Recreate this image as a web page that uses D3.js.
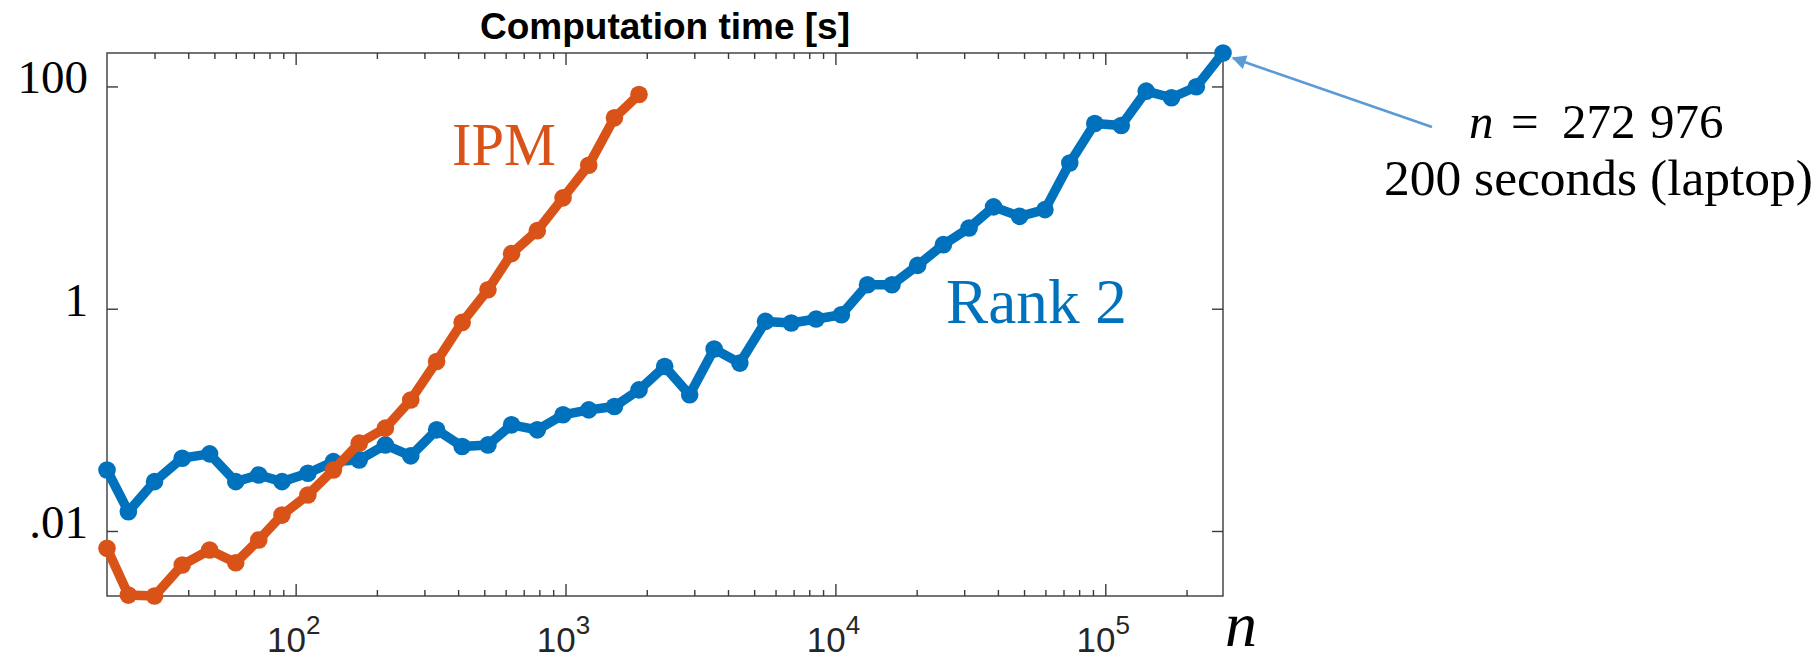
<!DOCTYPE html>
<html>
<head>
<meta charset="utf-8">
<script src="https://cdn.jsdelivr.net/npm/d3@7/dist/d3.min.js"></script>
<style>
  html, body { margin: 0; padding: 0; background: #fff; }
  svg { display: block; }
</style>
</head>
<body>
<svg id="chart" width="1819" height="660"></svg>
<script>
// ---- data ----
const sizes = [20, 24, 30, 38, 48, 60, 73, 89, 111, 138, 172, 215, 267, 333, 414, 516, 631, 786, 979, 1219,
  1518, 1872, 2330, 2884, 3553, 4425, 5510, 6860, 8482, 10525, 13150, 16205, 20170, 25120, 31280, 38540,
  48140, 59760, 73860, 91430, 114600, 141800, 175900, 217500, 272976];
const rank2Times = [0.0354, 0.0149, 0.0278, 0.0452, 0.0494, 0.0278, 0.0319, 0.0278, 0.0331, 0.0421, 0.0436,
  0.0595, 0.0474, 0.0813, 0.0575, 0.0595, 0.0902, 0.0813, 0.111, 0.123, 0.132, 0.186, 0.302, 0.168, 0.434,
  0.324, 0.769, 0.743, 0.808, 0.883, 1.645, 1.645, 2.455, 3.77, 5.33, 8.25, 6.78, 7.79, 20.5, 46.4, 44.5,
  90.7, 79.1, 99.4, 200];
const ipmTimes = [0.00698, 0.00265, 0.0026, 0.00494, 0.00674, 0.00518, 0.0083, 0.0139, 0.0211, 0.0354,
  0.0617, 0.0842, 0.151, 0.335, 0.753, 1.483, 3.13, 5.04, 9.94, 19.54, 52.2, 84.7];
const xMajorTicks = [1e2, 1e3, 1e4, 1e5];
const xTickExponents = ["2", "3", "4", "5"];
const yTicks = [0.01, 1, 100];
const yTickLabels = [".01", "1", "100"];
const titleText = "Computation time [s]";
const seriesNames = ["IPM", "Rank 2"];
const annotationLine1 = ["n", "=", "272", "976"];
const annotationLine2 = "200 seconds (laptop)";

// ---- setup ----
const svg = d3.select("#chart");
const blue = "#0072BD", orange = "#D95319";
const L = 107, R = 1223, T = 53, B = 596;

const rank2 = sizes.map((n, i) => ({ n, t: rank2Times[i] }));
const ipm = ipmTimes.map((t, i) => ({ n: sizes[i], t }));
const allT = rank2Times.concat(ipmTimes);

const x = d3.scaleLog().domain(d3.extent(sizes)).range([L, R]);
const y = d3.scaleLog().domain(d3.extent(allT)).range([B, T]);

// minor ticks: 2..9 x 10^k inside the domain
const xMinor = [];
for (let e = 1; e <= 5; e++) for (let m = 2; m <= 9; m++) {
  const v = m * Math.pow(10, e);
  if (v > x.domain()[0] && v < x.domain()[1]) xMinor.push(v);
}

const axisColor = "#3a3a3a";
function styleAxis(g) {
  g.select(".domain").remove();
  g.selectAll("line").attr("stroke", axisColor).attr("stroke-width", 1.4);
  g.selectAll("text").remove();
}
svg.append("g").attr("transform", `translate(0,${B})`)
  .call(d3.axisBottom(x).tickValues(xMajorTicks).tickSize(-12).tickFormat("")).call(styleAxis);
svg.append("g").attr("transform", `translate(0,${B})`)
  .call(d3.axisBottom(x).tickValues(xMinor).tickSize(-6).tickFormat("")).call(styleAxis);
svg.append("g").attr("transform", `translate(0,${T})`)
  .call(d3.axisTop(x).tickValues(xMajorTicks).tickSize(-12).tickFormat("")).call(styleAxis);
svg.append("g").attr("transform", `translate(0,${T})`)
  .call(d3.axisTop(x).tickValues(xMinor).tickSize(-6).tickFormat("")).call(styleAxis);
svg.append("g").attr("transform", `translate(${L},0)`)
  .call(d3.axisLeft(y).tickValues(yTicks).tickSize(-11).tickFormat("")).call(styleAxis);
svg.append("g").attr("transform", `translate(${R},0)`)
  .call(d3.axisRight(y).tickValues(yTicks).tickSize(-11).tickFormat("")).call(styleAxis);

// box
svg.append("rect").attr("x", L).attr("y", T).attr("width", R - L).attr("height", B - T)
  .attr("fill", "none").attr("stroke", axisColor).attr("stroke-width", 1.4);

// x tick labels 10^k
xMajorTicks.forEach((v, i) => {
  const t = svg.append("text").attr("x", x(v) - 2).attr("y", 652)
    .attr("text-anchor", "middle")
    .attr("font-family", "'Liberation Sans', Arial, sans-serif")
    .attr("font-size", 35).attr("fill", "#262626");
  t.append("tspan").text("10");
  t.append("tspan").attr("font-size", 26).attr("dy", -18).text(xTickExponents[i]);
});

// y tick labels
yTicks.forEach((v, i) => {
  svg.append("text").attr("x", 88).attr("y", y(v) + 7)
    .attr("text-anchor", "end")
    .attr("font-family", "'Liberation Serif', 'Times New Roman', serif")
    .attr("font-size", 47).attr("fill", "#000").text(yTickLabels[i]);
});

// title
svg.append("text").attr("x", (L + R) / 2).attr("y", 39).attr("text-anchor", "middle")
  .attr("font-family", "'Liberation Sans', Arial, sans-serif").attr("font-weight", "bold")
  .attr("font-size", 37).attr("fill", "#000").text(titleText);

// x axis label n
svg.append("text").attr("x", R + 2).attr("y", 646)
  .attr("font-family", "'Liberation Serif', serif").attr("font-style", "italic")
  .attr("font-size", 64).attr("fill", "#000").text("n");

// series
const line = d3.line().x(d => x(d.n)).y(d => y(d.t));
function drawSeries(data, color) {
  const g = svg.append("g");
  g.append("path").datum(data).attr("d", line).attr("fill", "none")
    .attr("stroke", color).attr("stroke-width", 9.5)
    .attr("stroke-linejoin", "round").attr("stroke-linecap", "round");
  g.selectAll("circle").data(data).join("circle")
    .attr("cx", d => x(d.n)).attr("cy", d => y(d.t)).attr("r", 8.8).attr("fill", color);
}
drawSeries(rank2, blue);
drawSeries(ipm, orange);

// series labels
svg.append("text").attr("x", 452).attr("y", 165)
  .attr("font-family", "'Liberation Serif', serif").attr("font-size", 62)
  .attr("textLength", 104).attr("lengthAdjust", "spacingAndGlyphs")
  .attr("fill", orange).text(seriesNames[0]);
svg.append("text").attr("x", 946).attr("y", 323)
  .attr("font-family", "'Liberation Serif', serif").attr("font-size", 64)
  .attr("textLength", 181).attr("lengthAdjust", "spacingAndGlyphs")
  .attr("fill", blue).text(seriesNames[1]);

// annotation arrow
const last = rank2[rank2.length - 1];
const arrowColor = "#5B9BD5";
svg.append("defs").append("marker").attr("id", "ah")
  .attr("viewBox", "0 0 10 10").attr("refX", 9).attr("refY", 5)
  .attr("markerWidth", 7).attr("markerHeight", 5.5).attr("orient", "auto-start-reverse")
  .attr("markerUnits", "strokeWidth")
  .append("path").attr("d", "M0,0 L10,5 L0,10 z").attr("fill", arrowColor);
svg.append("line").attr("x1", 1432).attr("y1", 127)
  .attr("x2", x(last.n) + 10).attr("y2", y(last.t) + 5)
  .attr("stroke", arrowColor).attr("stroke-width", 2.6).attr("marker-end", "url(#ah)");

// annotation text
const annXs = [1469, 1511, 1562, 1650];
const ann1 = svg.append("text").attr("y", 138)
  .attr("font-family", "'Liberation Serif', serif").attr("font-size", 49).attr("fill", "#000");
annotationLine1.forEach((s, i) => {
  const ts = ann1.append("tspan").attr("x", annXs[i]).text(s);
  if (i === 0) ts.attr("font-style", "italic");
});
svg.append("text").attr("x", 1384).attr("y", 195)
  .attr("font-family", "'Liberation Serif', serif").attr("font-size", 50)
  .attr("textLength", 429).attr("lengthAdjust", "spacingAndGlyphs")
  .attr("fill", "#000").text(annotationLine2);
</script>
</body>
</html>
